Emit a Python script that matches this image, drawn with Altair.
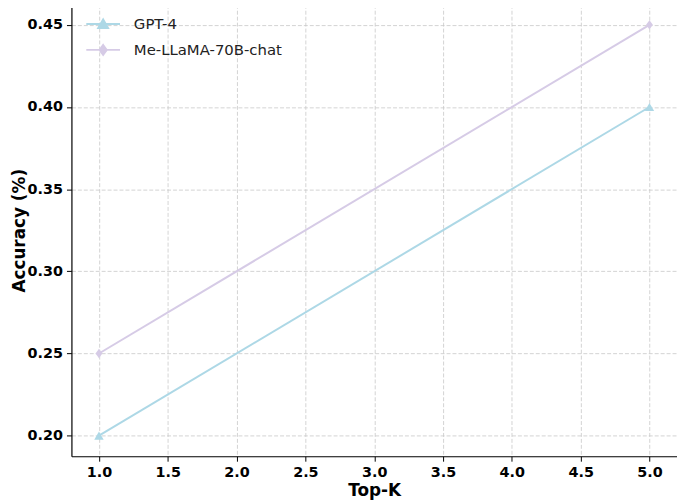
import altair as alt
import pandas as pd

models = ["GPT-4", "Me-LLaMA-70B-chat"]
top_k = [1.0, 5.0]
gpt4_acc = [0.20, 0.40]
mellama_acc = [0.25, 0.45]
colors = ["#add8e6", "#d6cbe6"]
x_ticks = [1.0, 1.5, 2.0, 2.5, 3.0, 3.5, 4.0, 4.5, 5.0]
y_ticks = [0.20, 0.25, 0.30, 0.35, 0.40, 0.45]

rows = []
for k, a in zip(top_k, gpt4_acc):
    rows.append({"k": k, "acc": a, "model": models[0]})
for k, a in zip(top_k, mellama_acc):
    rows.append({"k": k, "acc": a, "model": models[1]})
df = pd.DataFrame(rows)

thin_diamond = "M0,-1L0.72,0L0,1L-0.72,0Z"
leg_tri = "M-1,0L1,0M0,-0.27L0.29,0.23L-0.29,0.23Z"
leg_dia = "M-1,0L1,0M0,-0.29L0.21,0L0,0.29L-0.21,0Z"
marker_shapes = ["triangle-up", thin_diamond]
legend_shapes = [leg_tri, leg_dia]

x = alt.X("k:Q", title="Top-K",
          scale=alt.Scale(domain=[0.8, 5.2], nice=False, zero=False),
          axis=alt.Axis(values=x_ticks, format=".1f"))
y = alt.Y("acc:Q", title="Accuracy (%)",
          scale=alt.Scale(domain=[0.1875, 0.4625], nice=False, zero=False),
          axis=alt.Axis(values=y_ticks, format=".2f"))

base = alt.Chart(df)
layers = []
for m, c in zip(models, colors):
    layers.append(base.transform_filter(alt.datum.model == m)
                  .mark_line(color=c, strokeWidth=2).encode(x=x, y=y))
for m, c, s in zip(models, colors, marker_shapes):
    layers.append(base.transform_filter(alt.datum.model == m)
                  .mark_point(color=c, filled=True, opacity=1, size=90, shape=s).encode(x=x, y=y))

leg = dict(title=None, orient="none", legendX=14, legendY=2,
           symbolSize=1156, symbolStrokeWidth=2, symbolOpacity=1,
           labelFont="DejaVu Sans", labelFontSize=15, labelColor="#222222",
           labelOffset=13, rowPadding=-11, padding=0)
legend_layer = base.mark_point(filled=True, opacity=0).encode(
    x=x, y=y,
    fill=alt.Fill("model:N", scale=alt.Scale(domain=models, range=colors), legend=alt.Legend(**leg)),
    stroke=alt.Stroke("model:N", scale=alt.Scale(domain=models, range=colors), legend=alt.Legend(**leg)),
    shape=alt.Shape("model:N", scale=alt.Scale(domain=models, range=legend_shapes), legend=alt.Legend(**leg)),
)
layers.append(legend_layer)

chart = alt.layer(*layers).properties(
    width=611, height=456,
    autosize=alt.AutoSizeParams(type="none"),
    padding={"left": 64, "top": -6, "right": 0, "bottom": 52},
).configure_view(stroke=None).configure_axis(
    labelFont="DejaVu Sans", labelFontWeight="bold", labelFontSize=14.5, labelColor="#000000",
    titleFont="DejaVu Sans", titleFontWeight="bold", titleFontSize=17, titleColor="#000000",
    domainColor="#000000", domainWidth=1.2, tickColor="#000000", tickSize=5, tickWidth=1,
    gridColor="#c8c8c8", gridDash=[4, 2], gridWidth=0.8, labelPadding=4,
).configure_axisX(titlePadding=4).configure_axisY(titleX=-47, titleBaseline="alphabetic")

chart.save("out.html", embed_options={"renderer": "svg", "actions": False})
